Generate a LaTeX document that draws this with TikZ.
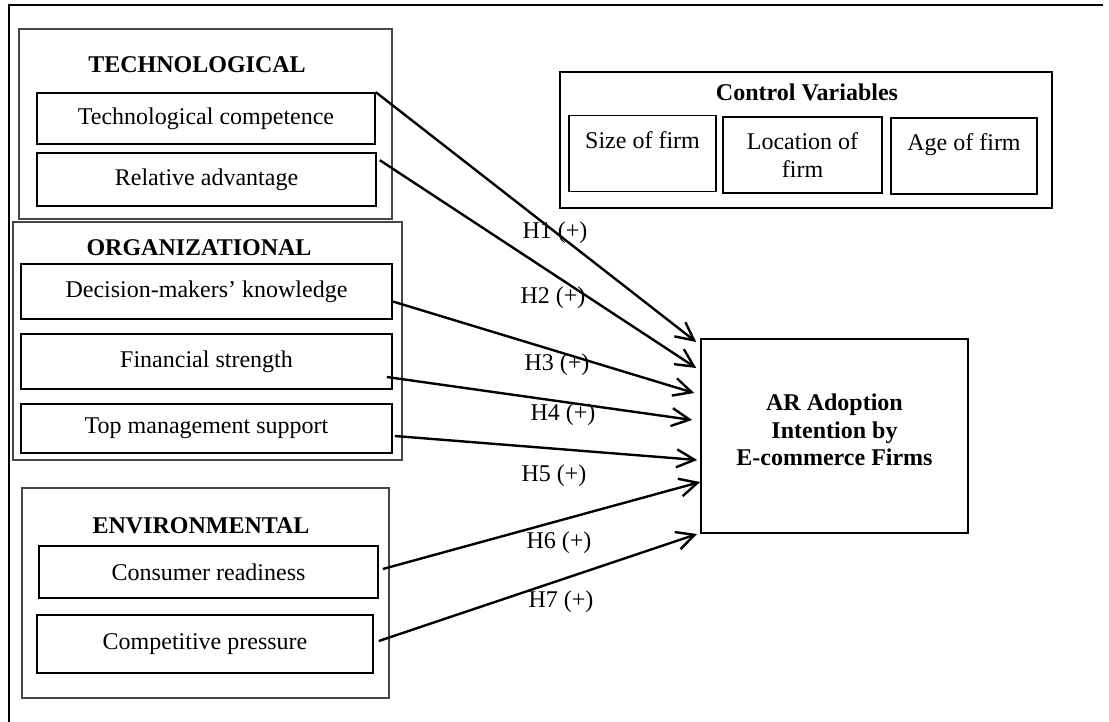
\documentclass[tikz,border=0pt]{standalone}
\usepackage{fontspec}
\setmainfont{Liberation Serif}
\usepackage{tikz}
\usetikzlibrary{arrows.meta, positioning}
\definecolor{framegray}{RGB}{70,70,70}

\begin{document}
\begin{tikzpicture}[x=0.5pt, y=-0.5pt,
    every node/.style={font=\fontsize{12}{13.75}\selectfont},
    group/.style={rectangle, draw=framegray, line width=0.55pt, inner sep=0pt},
    title/.style={inner sep=0pt, font=\fontsize{12}{13.75}\selectfont\bfseries},
    factor/.style={rectangle, draw, line width=0.8pt, align=center, inner sep=0pt},
    control/.style={rectangle, draw, line width=0.8pt, align=center, inner sep=0pt,
                    minimum height=38pt},
    hyp/.style={inner sep=0pt},
    arrow/.style={-{Straight Barb[length=9pt,width=9pt]}, line width=1.2pt}]

    \useasboundingbox (0,0) rectangle (1109,722);
    \draw[line width=1.3pt] (9,722) -- (9,5) -- (1103,5);

    % technological context
    \node[group, minimum width=186.5pt, minimum height=95pt] (techgroup) at (205.5,124) {};
    \node[title] (techtitle) at (197,65) {TECHNOLOGICAL};
    \node[factor, minimum width=169pt, minimum height=25.5pt] (techcomp) at (206,118.5) {Technological competence};
    \node[factor, minimum width=169.5pt, minimum height=26.5pt] (reladv) at (206.5,179.5) {Relative advantage};

    % organizational context
    \node[group, minimum width=194.5pt, minimum height=119pt] (orggroup) at (207.5,341) {};
    \node[title] (orgtitle) at (199,248) {ORGANIZATIONAL};
    \node[factor, minimum width=185.5pt, minimum height=27.5pt] (decision) at (206.5,291.5) {Decision-makers’ knowledge};
    \node[factor, minimum width=185.5pt, minimum height=27.5pt] (financial) at (206.5,361.5) {Financial strength};
    \node[factor, minimum width=185.5pt, minimum height=24.5pt] (topmgmt) at (206.5,428.5) {Top management support};

    % environmental context
    \node[group, minimum width=183.5pt, minimum height=105pt] (envgroup) at (205.5,593) {};
    \node[title] (envtitle) at (201,526) {ENVIRONMENTAL};
    \node[factor, minimum width=169.5pt, minimum height=26pt] (consumer) at (208.5,572) {Consumer readiness};
    \node[factor, minimum width=168pt, minimum height=29pt] (competitive) at (205,644) {Competitive pressure};

    % control variables
    \node[rectangle, draw, line width=1.1pt, minimum width=246pt, minimum height=68pt] (ctrlgroup) at (806,140) {};
    \node[title] (ctrltitle) at (807,92) {Control Variables};
    \node[control, minimum width=73.5pt] (sizefirm) at (642.5,153.5) {Size of firm\\~};
    \node[control, minimum width=79.5pt] (locfirm) at (802.5,155) {Location of\\firm};
    \node[control, minimum width=73pt] (agefirm) at (964,156) {Age of firm\\~};

    % outcome
    \node[factor, minimum width=133.5pt, minimum height=97pt, font=\fontsize{12}{13.75}\selectfont\bfseries]
        (target) at (834.5,436) {AR Adoption\\Intention by\\E-commerce Firms\\[-7.75pt]\mbox{}};

    % hypotheses
    \draw[arrow] (techcomp.north east) -- ([xshift=-2pt,yshift=47pt]target.west);
    \draw[arrow] ([xshift=1.5pt,yshift=-4pt]reladv.north east) -- ([xshift=-2pt,yshift=34pt]target.west);
    \draw[arrow] ([yshift=-5pt]decision.east) -- ([xshift=-3pt,yshift=21.5pt]target.west);
    \draw[arrow] ([xshift=-3pt,yshift=-7.75pt]financial.east) -- ([xshift=-4pt,yshift=8pt]target.west);
    \draw[arrow] ([xshift=1pt,yshift=-3.75pt]topmgmt.east) -- ([xshift=-1.5pt,yshift=-12pt]target.west);
    \draw[arrow] ([xshift=2pt,yshift=1.5pt]consumer.east) -- ([yshift=-23pt]target.west);
    \draw[arrow] ([xshift=2.5pt,yshift=1.5pt]competitive.east) -- ([xshift=-1.5pt,yshift=-49pt]target.west);

    \node[hyp] (h1) at (555,233) {H1 (+)};
    \node[hyp] (h2) at (553,298) {H2 (+)};
    \node[hyp] (h3) at (557,365) {H3 (+)};
    \node[hyp] (h4) at (563,415) {H4 (+)};
    \node[hyp] (h5) at (554,476) {H5 (+)};
    \node[hyp] (h6) at (559,543) {H6 (+)};
    \node[hyp] (h7) at (561,602) {H7 (+)};
\end{tikzpicture}
\end{document}
